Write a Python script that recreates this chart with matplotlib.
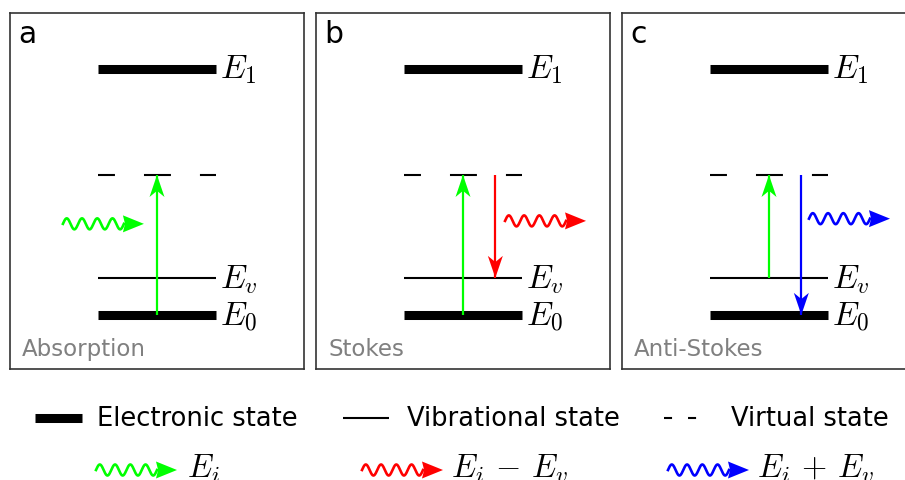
# raman_levels.py - energy level diagrams for absorption, Stokes and anti-Stokes scattering

import numpy as np
import matplotlib.pyplot as plt
import matplotlib.transforms as mtransforms
from matplotlib.patches import Polygon
from matplotlib.lines import Line2D

plt.rcParams['font.family'] = 'DejaVu Sans'
plt.rcParams['mathtext.fontset'] = 'cm'
plt.rcParams['lines.scale_dashes'] = False

# energy levels (units of the vibrational spacing)
level_keys = ['E0', 'Ev', 'virtual', 'E1']
level_energy = [0.0, 1.0, 3.78, 6.65]
level_labels = ['$E_0$', '$E_v$', '', '$E_1$']
level_kind = ['electronic', 'vibrational', 'virtual', 'electronic']

panel_letters = ['a', 'b', 'c']
panel_titles = ['Absorption', 'Stokes', 'Anti-Stokes']

GREEN, RED, BLUE = '#00ff00', '#ff0000', '#0000ff'

# transitions drawn in each panel: (from level, to level, colour)
transitions = [
    [('E0', 'virtual', GREEN)],
    [('E0', 'virtual', GREEN), ('virtual', 'Ev', RED)],
    [('Ev', 'virtual', GREEN), ('virtual', 'E0', BLUE)],
]
photon_colors = [GREEN, RED, BLUE]
photon_energy = [2.46, 2.54, 2.6]

legend_state_labels = ['Electronic state', 'Vibrational state', 'Virtual state']
legend_photon_labels = ['$E_i$', r'$E_i\,-\,E_v$', r'$E_i\,+\,E_v$']

level_style = {
    'electronic': dict(lw=6.5, ls='-'),
    'vibrational': dict(lw=1.5, ls='-'),
    'virtual': dict(lw=1.5, ls=(0, (12.2, 20.9, 19.4, 20.9))),
}

fig = plt.figure(figsize=(9.05, 4.81), dpi=100)


def anchored(x, y, base, dx=0):
    # pixel units, origin at (x, y) in the base transform
    return mtransforms.Affine2D().translate(dx, 0) + mtransforms.ScaledTranslation(x, y, base)


def head_patch(color, tr, hl, hw, notch):
    verts = np.array([[0, 0], [-hl, hw], [-hl * notch, 0], [-hl, -hw]])
    fig.add_artist(Polygon(verts, closed=True, color=color, lw=0, transform=tr, zorder=5))


def arrow_head(x, y, angle, color, base, hl=22, hw=7.5):
    tr = mtransforms.Affine2D().rotate_deg(angle) + mtransforms.ScaledTranslation(x, y, base)
    head_patch(color, tr, hl, hw, 0.72)


def photon(x, y, color, base, length=61, amp=5.5, periods=4):
    t = np.linspace(0, length, 300)
    w = amp * np.sin(2 * np.pi * periods * t / length)
    fig.add_artist(Line2D(t, w, color=color, lw=1.9, transform=anchored(x, y, base), zorder=5))
    head_patch(color, anchored(x, y, base, dx=length + 20), 21, 8.5, 0.9)


panel_left = [10 / 905, 316 / 905, 622 / 905]
arrow_x = [0.5, 0.61]
photon_x = [0.18, 0.643, 0.636]

for i, left in enumerate(panel_left):
    ax = fig.add_axes([left, 0.231, 294 / 905, 0.740])
    ax.set_xlim(0, 1)
    ax.set_ylim(-1.46, 8.16)
    ax.set_xticks([])
    ax.set_yticks([])
    for sp in ax.spines.values():
        sp.set_color('#333333')
        sp.set_linewidth(1.2)

    ytr = ax.get_yaxis_transform()
    for e, lab, kind in zip(level_energy, level_labels, level_kind):
        ax.axhline(e, 0.30, 0.70, color='black', solid_capstyle='butt', **level_style[kind])
        if lab:
            lab_tr = mtransforms.offset_copy(ytr, fig=fig, y=-9, units='dots')
            ax.text(0.713, e, lab, transform=lab_tr, fontsize=24, va='baseline', ha='left')

    for k, (start, end, color) in enumerate(transitions[i]):
        y0 = level_energy[level_keys.index(start)]
        y1 = level_energy[level_keys.index(end)]
        ax.plot([arrow_x[k], arrow_x[k]], [y0, y1], color=color, lw=1.6,
                transform=ytr, solid_capstyle='butt', zorder=4)
        arrow_head(arrow_x[k], y1, 90 if y1 > y0 else -90, color, ytr)

    photon(photon_x[i], photon_energy[i], photon_colors[i], ytr)

    ax.text(0.027, 0.919, panel_letters[i], transform=ax.transAxes, fontsize=21.5,
            va='baseline', ha='left')
    ax.text(0.041, 0.039, panel_titles[i], transform=ax.transAxes, fontsize=16.5,
            color='#808080', va='baseline', ha='left')

# legend along the bottom, in figure fractions
row1, row2 = 1 - 419 / 481, 1 - 471 / 481
marker_x = [(35 / 905, 82 / 905), (343 / 905, 389 / 905), (664 / 905, 697 / 905)]
state_text_x = [97 / 905, 407 / 905, 731 / 905]
legend_styles = [dict(lw=6.5, ls='-'), dict(lw=1.5, ls='-'), dict(lw=1.5, ls=(0, (5.8, 11.5)))]
for (x0, x1), tx, lab, st in zip(marker_x, state_text_x, legend_state_labels, legend_styles):
    fig.add_artist(Line2D([x0, x1], [row1, row1], color='black', transform=fig.transFigure,
                          solid_capstyle='butt', **st))
    fig.text(tx, row1, lab, fontsize=18.5, va='center', ha='left')

legend_photon_x = [96 / 905, 362 / 905, 668 / 905]
legend_photon_text_x = [187 / 905, 451 / 905, 757 / 905]
for px, tx, color, lab in zip(legend_photon_x, legend_photon_text_x, photon_colors, legend_photon_labels):
    photon(px, row2, color, fig.transFigure)
    fig.text(tx, 1 - 477 / 481, lab, fontsize=23.5, va='baseline', ha='left')

fig.savefig('out.png', dpi=100)
